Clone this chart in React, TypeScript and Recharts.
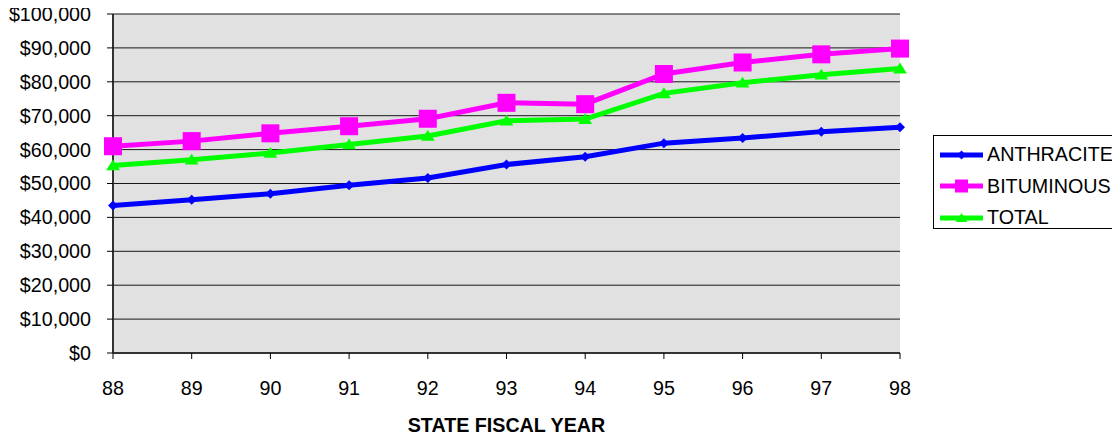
import React from "react";
import {
  LineChart,
  Line,
  XAxis,
  YAxis,
  CartesianGrid,
  Legend,
} from "recharts";

// fiscal years on the x axis
const years = ["88", "89", "90", "91", "92", "93", "94", "95", "96", "97", "98"];

// average dollars per year
const anthracite = [43500, 45200, 47000, 49500, 51600, 55600, 57900, 61900, 63400, 65300, 66600];
const bituminous = [61000, 62500, 64800, 66900, 69100, 73800, 73400, 82300, 85700, 88100, 89800];
const total = [55300, 57000, 59000, 61500, 64000, 68500, 69000, 76600, 79700, 82100, 83900];

const yTicks = [0, 10000, 20000, 30000, 40000, 50000, 60000, 70000, 80000, 90000, 100000];

const FONT = '"Liberation Sans", Arial, sans-serif';
const FS = 19.7;

const BLUE = "#0000FF";
const MAGENTA = "#FF00FF";
const GREEN = "#00FF00";

const data = years.map((y, i) => ({
  year: y,
  anthracite: anthracite[i],
  bituminous: bituminous[i],
  total: total[i],
}));

type Shape = "diamond" | "square" | "triangle";

function marker(shape: Shape, color: string, cx: number, cy: number, s: number, key?: any) {
  if (shape === "diamond") {
    return (
      <polygon
        key={key}
        points={`${cx},${cy - s} ${cx + s},${cy} ${cx},${cy + s} ${cx - s},${cy}`}
        fill={color}
      />
    );
  }
  if (shape === "square") {
    return <rect key={key} x={cx - s} y={cy - s} width={s * 2} height={s * 2} fill={color} />;
  }
  return (
    <polygon
      key={key}
      points={`${cx},${cy - s} ${cx + s * 1.15},${cy + s * 0.8} ${cx - s * 1.15},${cy + s * 0.8}`}
      fill={color}
    />
  );
}

const makeDot = (shape: Shape, color: string, s: number) => (props: any) => {
  const { cx, cy, index } = props;
  if (cx == null || cy == null) return <g key={index} />;
  return marker(shape, color, cx, cy, s, index);
};

const legendItems: { label: string; shape: Shape; color: string; size: number }[] = [
  { label: "ANTHRACITE", shape: "diamond", color: BLUE, size: 4.5 },
  { label: "BITUMINOUS", shape: "square", color: MAGENTA, size: 6.5 },
  { label: "TOTAL", shape: "triangle", color: GREEN, size: 5 },
];

// legend box runs off the right edge, so only three sides show
function LegendBox() {
  return (
    <div
      style={{
        width: 200,
        minWidth: 200,
        height: 94,
        boxSizing: "border-box",
        borderTop: "1px solid #000",
        borderLeft: "1px solid #000",
        borderBottom: "1px solid #000",
        background: "#fff",
        paddingTop: 3,
        fontFamily: FONT,
        fontSize: FS,
        color: "#000",
      }}
    >
      {legendItems.map((it) => (
        <div
          key={it.label}
          style={{ height: 31.5, display: "flex", alignItems: "center", whiteSpace: "nowrap" }}
        >
          <svg width={47} height={20} style={{ marginLeft: 6, flex: "none" }}>
            <line x1={0} y1={10} x2={43} y2={10} stroke={it.color} strokeWidth={5} />
            {marker(it.shape, it.color, 21.5, 10, it.size)}
          </svg>
          <span>{it.label}</span>
        </div>
      ))}
    </div>
  );
}

export default function App() {
  return (
    <div style={{ width: 1112, height: 441, margin: "-8px 0 -8px 0", overflow: "hidden" }}>
      <LineChart
        width={1112}
        height={441}
        data={data}
        margin={{ top: 14, right: 220, left: 0, bottom: 0 }}
        style={{ fontFamily: FONT }}
      >
        <CartesianGrid
          vertical={false}
          stroke="#000"
          strokeOpacity={0.9}
          fill="#E1E1E1"
          fillOpacity={1}
        />
        <XAxis
          dataKey="year"
          height={88}
          tickSize={6}
          tickMargin={22}
          axisLine={{ stroke: "#333", strokeWidth: 2 }}
          tickLine={{ stroke: "#000" }}
          tick={{ fill: "#000", fontSize: FS }}
          interval={0}
          label={{
            value: "STATE FISCAL YEAR",
            position: "insideBottom",
            offset: 9,
            fill: "#000",
            fontSize: FS,
            fontWeight: "bold",
          }}
        />
        <YAxis
          width={105}
          domain={[0, 100000]}
          ticks={yTicks}
          interval={0}
          tickSize={6}
          tickMargin={16}
          axisLine={{ stroke: "#333", strokeWidth: 2 }}
          tickLine={{ stroke: "#000" }}
          tick={{ fill: "#000", fontSize: FS }}
          tickFormatter={(v: number) => `$${v.toLocaleString("en-US")}`}
        />
        <YAxis
          yAxisId="edge"
          orientation="right"
          width={0}
          tick={false}
          tickLine={false}
          axisLine={{ stroke: "#808080", strokeWidth: 2 }}
        />
        <Legend
          layout="horizontal"
          verticalAlign="middle"
          align="center"
          content={() => <LegendBox />}
          wrapperStyle={{ position: "absolute", left: 925, top: 135, width: 200, height: 94 }}
        />
        <Line
          dataKey="anthracite"
          stroke={BLUE}
          strokeWidth={5}
          dot={makeDot("diamond", BLUE, 5)}
          activeDot={false}
          isAnimationActive={false}
        />
        <Line
          dataKey="bituminous"
          stroke={MAGENTA}
          strokeWidth={5}
          dot={makeDot("square", MAGENTA, 9)}
          activeDot={false}
          isAnimationActive={false}
        />
        <Line
          dataKey="total"
          stroke={GREEN}
          strokeWidth={5}
          dot={makeDot("triangle", GREEN, 6)}
          activeDot={false}
          isAnimationActive={false}
        />
      </LineChart>
    </div>
  );
}
